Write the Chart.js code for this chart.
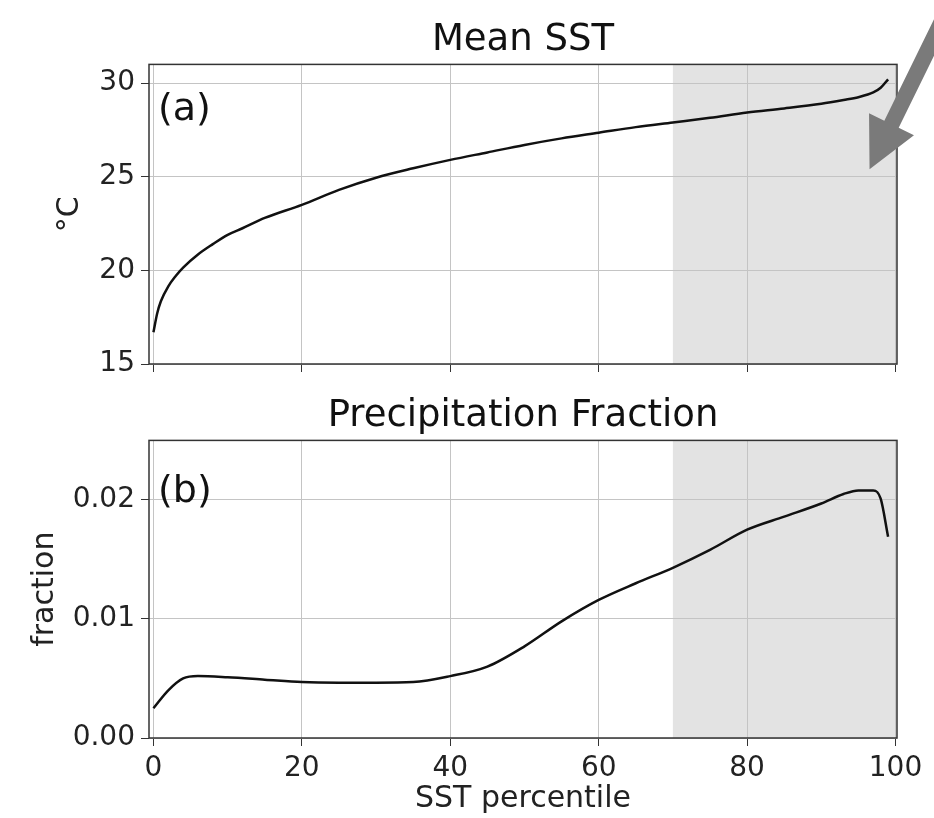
<!DOCTYPE html>
<html>
<head>
<meta charset="utf-8">
<script src="https://cdn.jsdelivr.net/npm/chart.js@4.4.1/dist/chart.umd.min.js"></script>
<style>
  body { margin: 0; background: #fff; }
  canvas { display: block; }
</style>
</head>
<body>
<canvas id="sstChart" width="934" height="390"></canvas>
<canvas id="precipChart" width="934" height="428"></canvas>
<script>
  // SST percentile vs mean SST (panel a)
  const sstPercentiles = [0, 0.5, 1, 2, 3, 4, 6, 8, 10, 12, 15, 20, 25, 30, 35, 40, 45, 50, 55, 60, 65, 70, 75, 80, 85, 90, 93, 95, 97, 98, 99];
  const meanSst = [16.7, 17.7, 18.35, 19.15, 19.7, 20.15, 20.85, 21.4, 21.9, 22.25, 22.8, 23.5, 24.3, 24.95, 25.45, 25.9, 26.3, 26.7, 27.05, 27.35, 27.65, 27.9, 28.15, 28.43, 28.65, 28.9, 29.1, 29.25, 29.5, 29.75, 30.2];

  // SST percentile vs precipitation fraction (panel b)
  const precipPercentiles = [0, 2, 4, 6, 10, 15, 20, 25, 30, 35, 40, 45, 50, 55, 60, 65, 70, 75, 80, 85, 90, 93, 95, 97, 98, 99];
  const precipFraction = [0.0025, 0.0040, 0.0050, 0.0052, 0.0051, 0.0049, 0.0047, 0.00465, 0.00465, 0.0047, 0.0052, 0.0060, 0.0077, 0.0098, 0.0116, 0.0130, 0.0143, 0.0158, 0.0175, 0.0186, 0.0197, 0.0205, 0.0208, 0.0208, 0.0201, 0.0169];

  const xTicks = [0, 20, 40, 60, 80, 100];
  const sstTicks = [15, 20, 25, 30];
  const fracTicks = [0, 0.01, 0.02];
  const fracTickLabels = ['0.00', '0.01', '0.02'];
  const shadeStart = 70;

  const FONT = 'DejaVu Sans';

  const panelPlugin = {
    id: 'panel',
    beforeDraw(chart, args, opts) {
      const { ctx, chartArea: a, scales: { x } } = chart;
      const sx = x.getPixelForValue(opts.shadeFrom);
      ctx.save();
      ctx.fillStyle = '#e3e3e3';
      ctx.fillRect(sx, a.top, a.right - sx, a.bottom - a.top);
      ctx.restore();
    },
    afterDraw(chart, args, opts) {
      const { ctx, chartArea: a } = chart;
      ctx.save();
      ctx.strokeStyle = '#333';
      ctx.lineWidth = 1.5;
      ctx.strokeRect(a.left, a.top, a.right - a.left, a.bottom - a.top);
      ctx.fillStyle = '#111';
      ctx.font = '38px "' + FONT + '"';
      ctx.textBaseline = 'middle';
      ctx.fillText(opts.label, a.left + 9, a.top + opts.labelDy);
      ctx.restore();
    }
  };

  const arrowPlugin = {
    id: 'arrow',
    afterDraw(chart, args, opts) {
      if (!opts.show) return;
      const { ctx, scales: { x, y } } = chart;
      const tx = x.getPixelForValue(opts.tipX);
      const ty = y.getPixelForValue(opts.tipY);
      const len = Math.hypot(0.44, 0.9);
      const ux = 0.44 / len, uy = -0.9 / len;
      const nx = -uy, ny = ux;
      const bx = tx + ux * 50, by = ty + uy * 50;
      ctx.save();
      ctx.fillStyle = '#7a7a7a';
      ctx.beginPath();
      ctx.moveTo(tx, ty);
      ctx.lineTo(bx + nx * 25, by + ny * 25);
      ctx.lineTo(bx + nx * 8, by + ny * 8);
      ctx.lineTo(bx + nx * 8 + ux * 220, by + ny * 8 + uy * 220);
      ctx.lineTo(bx - nx * 8 + ux * 220, by - ny * 8 + uy * 220);
      ctx.lineTo(bx - nx * 8, by - ny * 8);
      ctx.lineTo(bx - nx * 25, by - ny * 25);
      ctx.closePath();
      ctx.fill();
      ctx.restore();
    }
  };

  function makeChart(id, xs, ys, cfg) {
    const ctx = document.getElementById(id).getContext('2d');
    return new Chart(ctx, {
      type: 'line',
      data: {
        datasets: [{
          data: xs.map((v, i) => ({ x: v, y: ys[i] })),
          borderColor: '#111',
          borderWidth: 2.5,
          pointRadius: 0,
          fill: false,
          tension: 0.4,
          cubicInterpolationMode: 'monotone'
        }]
      },
      options: {
        responsive: false,
        animation: false,
        layout: { padding: { left: 0, right: 37, top: 0, bottom: 0 } },
        plugins: {
          legend: { display: false },
          tooltip: { enabled: false },
          title: {
            display: true,
            fullSize: false,
            text: cfg.title,
            color: '#111',
            font: { family: FONT, size: 37, weight: 'normal' },
            padding: cfg.titlePadding
          },
          panel: { shadeFrom: shadeStart, label: cfg.label, labelDy: cfg.labelDy },
          arrow: cfg.arrow || { show: false }
        },
        scales: {
          x: {
            type: 'linear',
            min: -0.6,
            max: 100.2,
            afterBuildTicks: s => { s.ticks = xTicks.map(v => ({ value: v })); },
            afterFit: s => { s.height = cfg.xHeight; },
            grid: { color: '#c4c4c4', lineWidth: 1, tickColor: '#333', tickLength: 8 },
            border: { display: false },
            ticks: {
              color: '#222',
              padding: 6,
              maxRotation: 0,
              font: { family: FONT, size: 28 },
              callback: v => cfg.showX ? String(v) : ''
            },
            title: {
              display: cfg.showX,
              text: 'SST percentile',
              color: '#222',
              font: { family: FONT, size: 30 },
              padding: { top: 0, bottom: 1 }
            }
          },
          y: {
            min: cfg.yMin,
            max: cfg.yMax,
            afterBuildTicks: s => { s.ticks = cfg.yTicks.map(v => ({ value: v })); },
            afterFit: s => { s.width = 149; },
            grid: { color: '#c4c4c4', lineWidth: 1, tickColor: '#333', tickLength: 8 },
            border: { display: false },
            ticks: {
              color: '#222',
              padding: 6,
              font: { family: FONT, size: 28 },
              callback: cfg.yLabel
            },
            title: {
              display: true,
              text: cfg.yTitle,
              color: '#222',
              font: { family: FONT, size: 30 },
              padding: { top: cfg.yTitlePad, bottom: 0 }
            }
          }
        }
      },
      plugins: [panelPlugin, arrowPlugin]
    });
  }

  makeChart('sstChart', sstPercentiles, meanSst, {
    title: 'Mean SST',
    titlePadding: { top: 18, bottom: 2 },
    label: '(a)',
    labelDy: 46,
    xHeight: 26,
    showX: false,
    yMin: 15,
    yMax: 31,
    yTicks: sstTicks,
    yLabel: v => String(v),
    yTitle: '°C',
    yTitlePad: 52,
    arrow: { show: true, tipX: 96.5, tipY: 25.4 }
  });

  makeChart('precipChart', precipPercentiles, precipFraction, {
    title: 'Precipitation Fraction',
    titlePadding: { top: 4, bottom: 2 },
    label: '(b)',
    labelDy: 52,
    xHeight: 80,
    showX: true,
    yMin: 0,
    yMax: 0.025,
    yTicks: fracTicks,
    yLabel: (v, i) => fracTickLabels[i],
    yTitle: 'fraction',
    yTitlePad: 27
  });
</script>
</body>
</html>
